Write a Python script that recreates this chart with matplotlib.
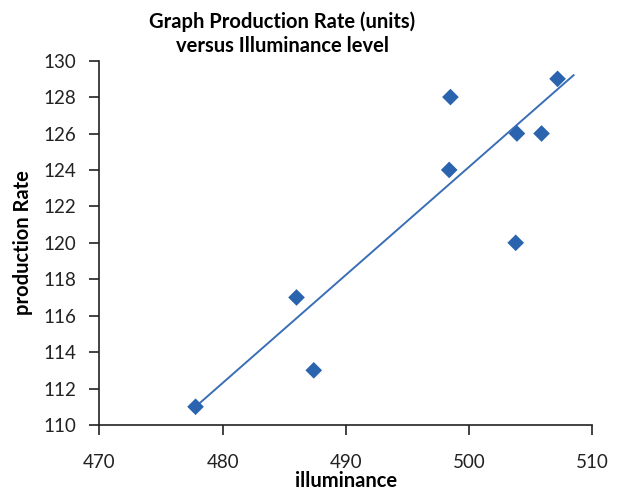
import matplotlib
matplotlib.use("Agg")
import matplotlib.pyplot as plt

# values
illuminance = [477.8, 486.0, 487.4, 498.4, 498.5, 503.8, 503.9, 505.9, 507.2]
production_rate = [111, 117, 113, 124, 128, 120, 126, 126, 129]

# trendline end points as drawn in the reference
trend_x = [477.8, 508.5]
trend_y = [111.0, 129.2]

x_ticks = [470, 480, 490, 500, 510]
y_ticks = [110, 112, 114, 116, 118, 120, 122, 124, 126, 128, 130]

blue = '#2A63AE'
line_blue = '#3A6EB5'

plt.rcParams['font.family'] = ['Lato', 'DejaVu Sans']

fig = plt.figure(figsize=(6.18, 4.93), dpi=100)
ax = fig.add_axes([0.161, 0.138, 0.797, 0.739])

ax.plot(trend_x, trend_y, color=line_blue, linewidth=1.4, zorder=2)
ax.scatter(illuminance, production_rate, marker='D', s=72, color=blue,
           edgecolors='none', zorder=3)

ax.set_xlim(470, 510)
ax.set_ylim(110, 130)
ax.set_xticks(x_ticks)
ax.set_yticks(y_ticks)
ax.tick_params(direction='out', length=7, width=1.2, labelsize=13.5,
               colors='#222222')
ax.tick_params(axis='y', pad=10)
ax.tick_params(axis='x', pad=14)

for side in ['top', 'right']:
    ax.spines[side].set_visible(False)
for side in ['left', 'bottom']:
    ax.spines[side].set_linewidth(1.2)
    ax.spines[side].set_color('#222222')

ax.set_xlabel('illuminance', fontsize=14.5, fontweight='bold', labelpad=0)
ax.set_ylabel('production Rate', fontsize=14.5, fontweight='bold', labelpad=7)

fig.text(282 / 618, 1 - 34 / 493,
         'Graph Production Rate (units)\nversus Illuminance level',
         ha='center', va='center', fontsize=14.5, fontweight='bold',
         linespacing=1.25)

fig.savefig('out.png', dpi=100)
